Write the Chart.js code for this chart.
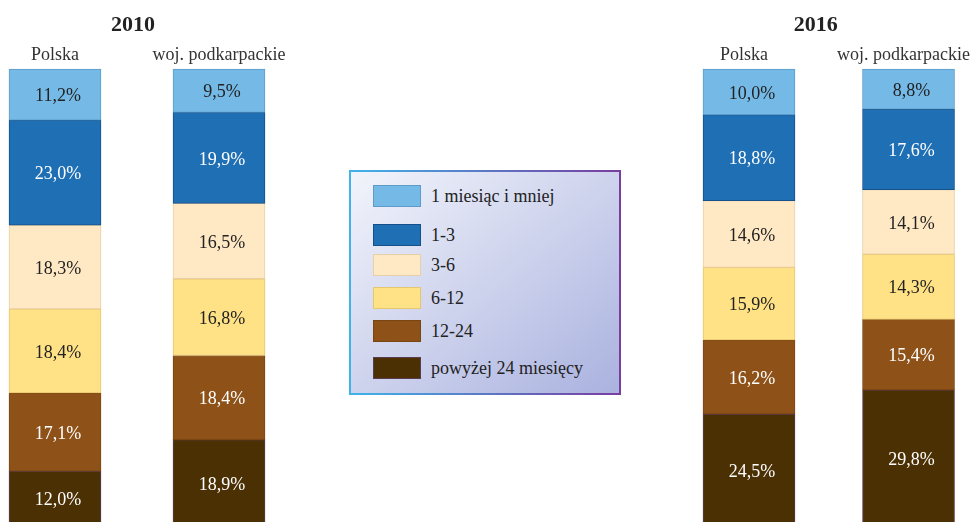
<!DOCTYPE html>
<html>
<head>
<meta charset="utf-8">
<script src="https://cdn.jsdelivr.net/npm/chart.js@4"></script>
<style>
  body { margin: 0; width: 974px; height: 522px; overflow: hidden; background: #fff; position: relative; font-family: "Liberation Serif", "DejaVu Serif", serif; }
  canvas { position: absolute; top: 0; }
  #left { left: 0; }
  #right { left: 654px; }
  #legend {
    position: absolute; left: 349px; top: 170px; width: 268px; height: 221px;
    border: 2px solid; border-image: linear-gradient(to right, #3fb3ea, #7a3da0) 1;
    background: linear-gradient(to bottom right, #f2f4fb, #aab2df);
  }
  .item { position: absolute; left: 22px; height: 22px; display: flex; align-items: center; font-size: 18px; color: #222; white-space: nowrap; }
  .sw { width: 46px; height: 20px; margin-right: 10px; border: 1px solid; }
</style>
</head>
<body>
<canvas id="left" width="300" height="526"></canvas>
<canvas id="right" width="324" height="526"></canvas>
<div id="legend"></div>
<script>
// categories and series (shares in %, top to bottom)
const regions = ['Polska', 'woj. podkarpackie'];
const durations = ['1 miesiąc i mniej', '1-3', '3-6', '6-12', '12-24', 'powyżej 24 miesięcy'];
const colors = ['#75b9e6', '#1f6fb5', '#ffe8c4', '#ffe186', '#8e5219', '#4b3004'];
const borders = ['#5d9cc9', '#15508a', '#e8cfa8', '#e6c66e', '#7a4514', '#5a3c4e'];
const labelColors = ['#222', '#fff', '#222', '#222', '#fff', '#fff'];

// values per duration: [Polska, woj. podkarpackie]
const data2010 = [
  [11.2, 9.5],
  [23.0, 19.9],
  [18.3, 16.5],
  [18.4, 16.8],
  [17.1, 18.4],
  [12.0, 18.9]
];
const data2016 = [
  [10.0, 8.8],
  [18.8, 17.6],
  [14.6, 14.1],
  [15.9, 14.3],
  [16.2, 15.4],
  [24.5, 29.8]
];

const serif = '"Liberation Serif", "DejaVu Serif", serif';

const barLabels = {
  id: 'barLabels',
  afterDatasetsDraw(chart) {
    const ctx = chart.ctx;
    ctx.save();
    ctx.font = '18px ' + serif;
    ctx.textAlign = 'center';
    ctx.textBaseline = 'middle';
    chart.data.datasets.forEach((ds, i) => {
      chart.getDatasetMeta(i).data.forEach((bar, j) => {
        const v = ds.data[j];
        ctx.fillStyle = labelColors[i];
        ctx.fillText(v.toFixed(1).replace('.', ',') + '%', bar.x + 3, (bar.y + bar.base) / 2 + 2);
      });
    });
    ctx.restore();
  }
};

// year heading, a bit left of the pair of bars like in the original
const yearTitle = {
  id: 'yearTitle',
  afterDraw(chart, args, opts) {
    const ctx = chart.ctx, a = chart.chartArea;
    ctx.save();
    ctx.font = 'bold 22px ' + serif;
    ctx.fillStyle = '#222';
    ctx.textAlign = 'center';
    ctx.textBaseline = 'middle';
    ctx.fillText(opts.text, (a.left + a.right) / 2 + opts.dx, 25);
    ctx.restore();
  }
};

function makeChart(id, year, values, pad, dx, shift) {
  new Chart(document.getElementById(id), {
    type: 'bar',
    data: {
      labels: regions,
      datasets: durations.map((d, i) => ({
        label: d,
        data: values[i],
        backgroundColor: colors[i],
        borderColor: borders[i],
        borderWidth: 1,
        borderSkipped: false,
        barThickness: 92,
        clip: false
      }))
    },
    options: {
      responsive: false,
      animation: false,
      events: [],
      layout: { padding: { left: pad[0], right: pad[1], top: 37, bottom: 0 } },
      plugins: {
        legend: { display: false },
        tooltip: { enabled: false },
        title: { display: false },
        yearTitle: { text: year, dx: dx }
      },
      scales: {
        x: {
          position: 'top',
          stacked: true,
          offset: false,
          grid: { display: false, drawTicks: false },
          border: { display: false },
          ticks: { color: '#333', font: { family: serif, size: 18 }, padding: 3, maxRotation: 0, autoSkip: false, labelOffset: shift },
          afterFit: s => { s.height = 32; }
        },
        y: {
          display: false,
          stacked: true,
          reverse: true,
          min: 0,
          max: 100
        }
      }
    },
    plugins: [barLabels, yearTitle]
  });
}

makeChart('left', '2010', data2010, [55, 81], -4, 0);
makeChart('right', '2016', data2016, [95, 69], -13, -5);

// legend
const rowTops = [13, 52, 82, 115, 148, 185];
const legend = document.getElementById('legend');
durations.forEach((d, i) => {
  const row = document.createElement('div');
  row.className = 'item';
  row.style.top = rowTops[i] + 'px';
  row.innerHTML = '<span class="sw" style="background:' + colors[i] + ';border-color:' + borders[i] + '"></span>' + d;
  legend.appendChild(row);
});
</script>
</body>
</html>
